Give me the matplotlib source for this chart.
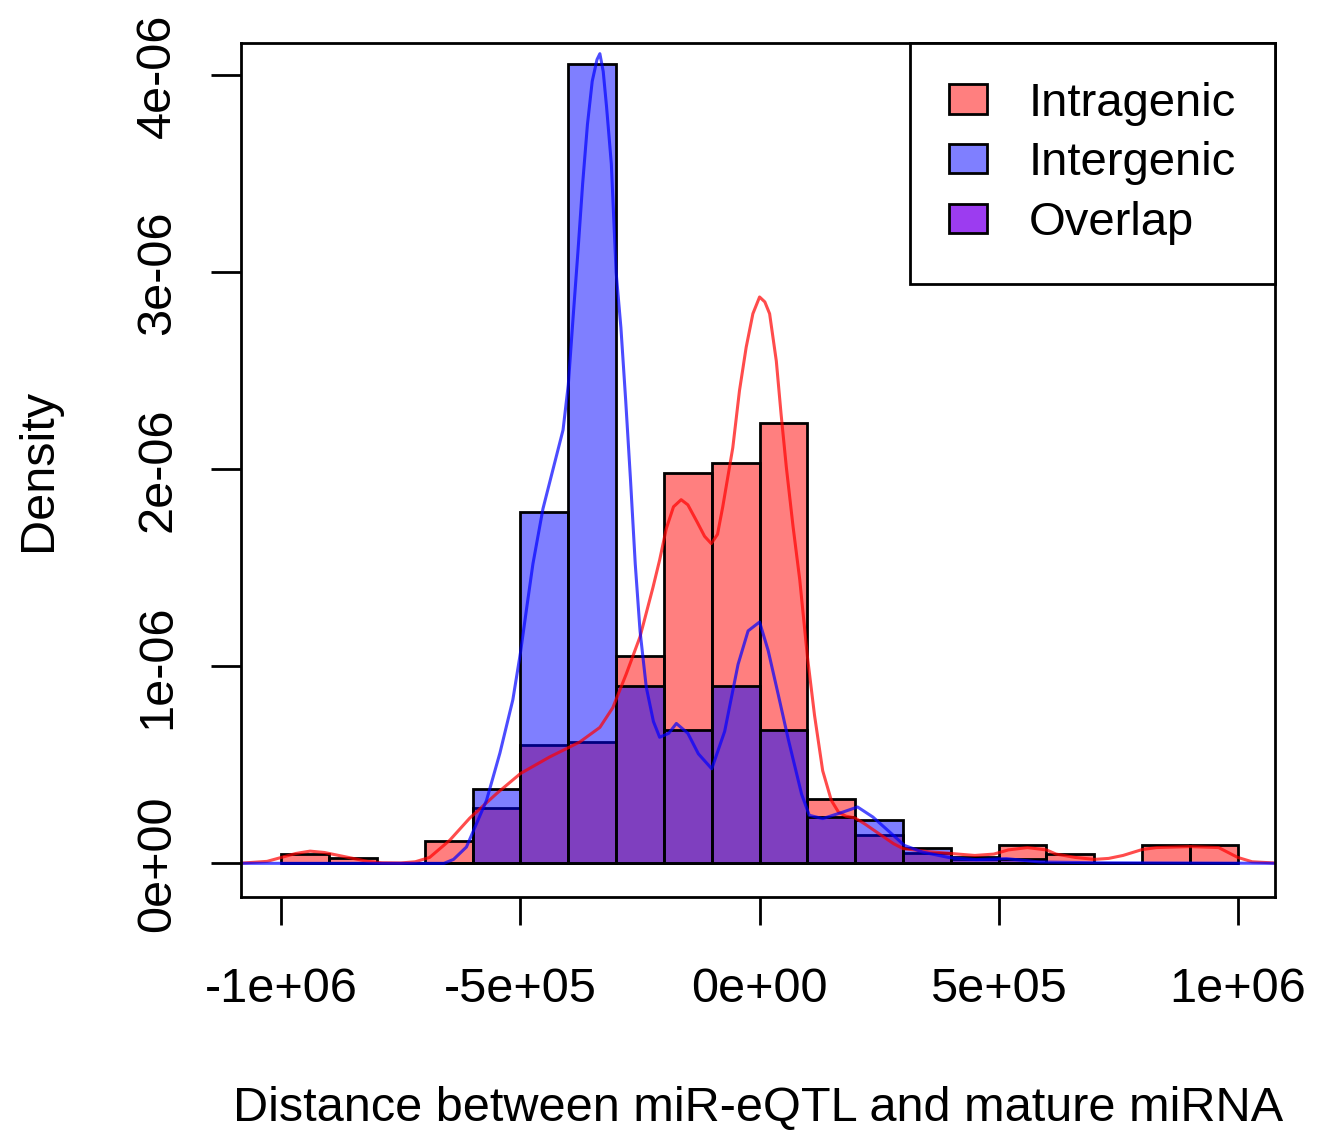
import matplotlib
matplotlib.use("Agg")
import matplotlib.pyplot as plt
from matplotlib.patches import Patch
import numpy as np

plt.rcParams['font.family'] = ['Liberation Sans', 'DejaVu Sans']

# histogram bins (width 1e5) from -1e6 to 1e6
bin_edges = np.arange(-1.0e6, 1.0e6 + 1, 1.0e5)

# density of each bin, in units of 1e-6
intragenic_density = [0.046, 0.029, 0.0, 0.113, 0.283, 0.599, 0.616, 1.052, 1.983, 2.034,
                      2.237, 0.328, 0.142, 0.052, 0.020, 0.091, 0.047, 0.0, 0.091, 0.091]
intergenic_density = [0.0, 0.0, 0.0, 0.0, 0.379, 1.783, 4.06, 0.898, 0.675, 0.898,
                      0.675, 0.235, 0.218, 0.078, 0.030, 0.020, 0.0, 0.0, 0.0, 0.0]

# kernel density curves (y in units of 1e-6)
intra_kde_x = [-1.09e6, -1.03e6, -1.0e6, -0.97e6, -0.94e6, -0.91e6, -0.88e6, -0.85e6,
               -0.82e6, -0.79e6, -0.75e6, -0.72e6, -0.69e6, -0.648e6, -0.606e6, -0.55e6,
               -0.50e6, -0.439e6, -0.376e6, -0.334e6, -0.307e6, -0.279e6, -0.25e6, -0.223e6,
               -0.209e6, -0.195e6, -0.18e6, -0.164e6, -0.15e6, -0.13e6, -0.115e6, -0.101e6,
               -0.088e6, -0.077e6, -0.056e6, -0.042e6, -0.028e6, -0.014e6, 0.0, 0.011e6,
               0.021e6, 0.035e6, 0.045e6, 0.056e6, 0.070e6, 0.084e6, 0.10e6, 0.115e6,
               0.132e6, 0.15e6, 0.165e6, 0.18e6, 0.20e6, 0.22e6, 0.25e6, 0.28e6,
               0.30e6, 0.35e6, 0.40e6, 0.45e6, 0.49e6, 0.52e6, 0.56e6, 0.60e6,
               0.62e6, 0.66e6, 0.70e6, 0.73e6, 0.76e6, 0.80e6, 0.83e6, 0.90e6,
               0.96e6, 1.0e6, 1.03e6, 1.09e6]
intra_kde_y = [0.0, 0.01, 0.03, 0.05, 0.062, 0.055, 0.04, 0.025,
               0.01, 0.003, 0.002, 0.008, 0.03, 0.117, 0.23, 0.354,
               0.456, 0.54, 0.616, 0.69, 0.79, 0.96, 1.15, 1.40,
               1.54, 1.70, 1.81, 1.846, 1.82, 1.73, 1.66, 1.623,
               1.67, 1.81, 2.11, 2.40, 2.62, 2.79, 2.875, 2.85,
               2.79, 2.55, 2.28, 2.01, 1.71, 1.44, 1.05, 0.75,
               0.47, 0.32, 0.26, 0.24, 0.23, 0.20, 0.15, 0.10,
               0.075, 0.06, 0.05, 0.04, 0.047, 0.068, 0.08, 0.068,
               0.047, 0.03, 0.02, 0.025, 0.04, 0.07, 0.08, 0.085,
               0.08, 0.03, 0.008, 0.0]

inter_kde_x = [-1.09e6, -0.70e6, -0.66e6, -0.64e6, -0.613e6, -0.571e6, -0.543e6, -0.516e6,
               -0.50e6, -0.488e6, -0.474e6, -0.453e6, -0.432e6, -0.411e6, -0.40e6, -0.39e6,
               -0.38e6, -0.37e6, -0.36e6, -0.35e6, -0.34e6, -0.334e6, -0.327e6, -0.32e6,
               -0.31e6, -0.30e6, -0.29e6, -0.28e6, -0.27e6, -0.26e6, -0.25e6, -0.237e6,
               -0.222e6, -0.209e6, -0.19e6, -0.174e6, -0.15e6, -0.128e6, -0.10e6, -0.073e6,
               -0.045e6, -0.024e6, 0.0, 0.018e6, 0.039e6, 0.06e6, 0.088e6, 0.104e6,
               0.132e6, 0.174e6, 0.205e6, 0.237e6, 0.272e6, 0.303e6, 0.341e6, 0.397e6,
               0.453e6, 0.516e6, 0.585e6, 0.70e6, 1.09e6]
inter_kde_y = [0.0, 0.0, 0.0, 0.02, 0.083, 0.32, 0.56, 0.83,
               1.07, 1.28, 1.52, 1.80, 2.0, 2.20, 2.43, 2.77,
               3.1, 3.45, 3.75, 3.97, 4.08, 4.11, 4.02, 3.84,
               3.55, 3.0, 2.72, 2.35, 1.95, 1.52, 1.18, 0.895,
               0.72, 0.64, 0.66, 0.71, 0.66, 0.556, 0.48, 0.67,
               1.01, 1.18, 1.225, 1.08, 0.857, 0.63, 0.35, 0.244,
               0.227, 0.26, 0.286, 0.235, 0.159, 0.091, 0.057, 0.029,
               0.019, 0.024, 0.007, 0.003, 0.0]

x_ticks = [-1e6, -5e5, 0, 5e5, 1e6]
x_labels = ['-1e+06', '-5e+05', '0e+00', '5e+05', '1e+06']
y_ticks = [0, 1e-6, 2e-6, 3e-6, 4e-6]
y_labels = ['0e+00', '1e-06', '2e-06', '3e-06', '4e-06']

legend_names = ['Intragenic', 'Intergenic', 'Overlap']

red_fill = (1, 0, 0, 0.5)
blue_fill = (0, 0, 1, 0.5)
scale = 1e-6

fig = plt.figure(figsize=(13.25, 11.33), dpi=100)
ax = fig.add_axes([0.1817, 0.2080, 0.7806, 0.7540])

width = bin_edges[1] - bin_edges[0]
ax.bar(bin_edges[:-1], np.array(intragenic_density) * scale, width=width, align='edge',
       color=red_fill, edgecolor='black', linewidth=2)
ax.bar(bin_edges[:-1], np.array(intergenic_density) * scale, width=width, align='edge',
       color=blue_fill, edgecolor='black', linewidth=2)

ax.plot(intra_kde_x, np.array(intra_kde_y) * scale, color=(1, 0, 0, 0.7), lw=2.2,
        solid_joinstyle='round')
ax.plot(inter_kde_x, np.array(inter_kde_y) * scale, color=(0, 0, 1, 0.7), lw=2.2,
        solid_joinstyle='round')

ax.set_xlim(-1.085e6, 1.078e6)
ax.set_ylim(-0.1726e-6, 4.164e-6)

ax.set_xticks(x_ticks)
ax.set_xticklabels(x_labels)
ax.set_yticks(y_ticks)
ax.set_yticklabels(y_labels, rotation=90, va='center')
ax.tick_params(axis='x', length=20, width=2, pad=30, labelsize=35)
ax.tick_params(axis='y', length=21.6, width=2, pad=22, labelsize=35)
for s in ax.spines.values():
    s.set_linewidth(2)

ax.set_xlabel('Distance between miR-eQTL and mature miRNA', fontsize=35)
ax.xaxis.set_label_coords(0.5, -0.2466)
ax.xaxis.label.set_va('center')
ax.set_ylabel('Density', fontsize=35)
ax.yaxis.set_label_coords(-0.196, 0.5)
ax.yaxis.label.set_va('center')

handles = [Patch(facecolor='#ff7f7f', edgecolor='black', linewidth=2),
           Patch(facecolor='#7f7fff', edgecolor='black', linewidth=2),
           Patch(facecolor='#9c3cf0', edgecolor='black', linewidth=2)]
leg = ax.legend(handles, legend_names, loc='upper right', bbox_to_anchor=(1.0, 1.0),
                borderaxespad=0, fontsize=34, fancybox=False, framealpha=1,
                edgecolor='black', handlelength=0.8, handleheight=0.58,
                handletextpad=0.9, labelspacing=0.33, borderpad=0.82)
leg.get_frame().set_linewidth(2)

fig.savefig('out.png', dpi=100)
